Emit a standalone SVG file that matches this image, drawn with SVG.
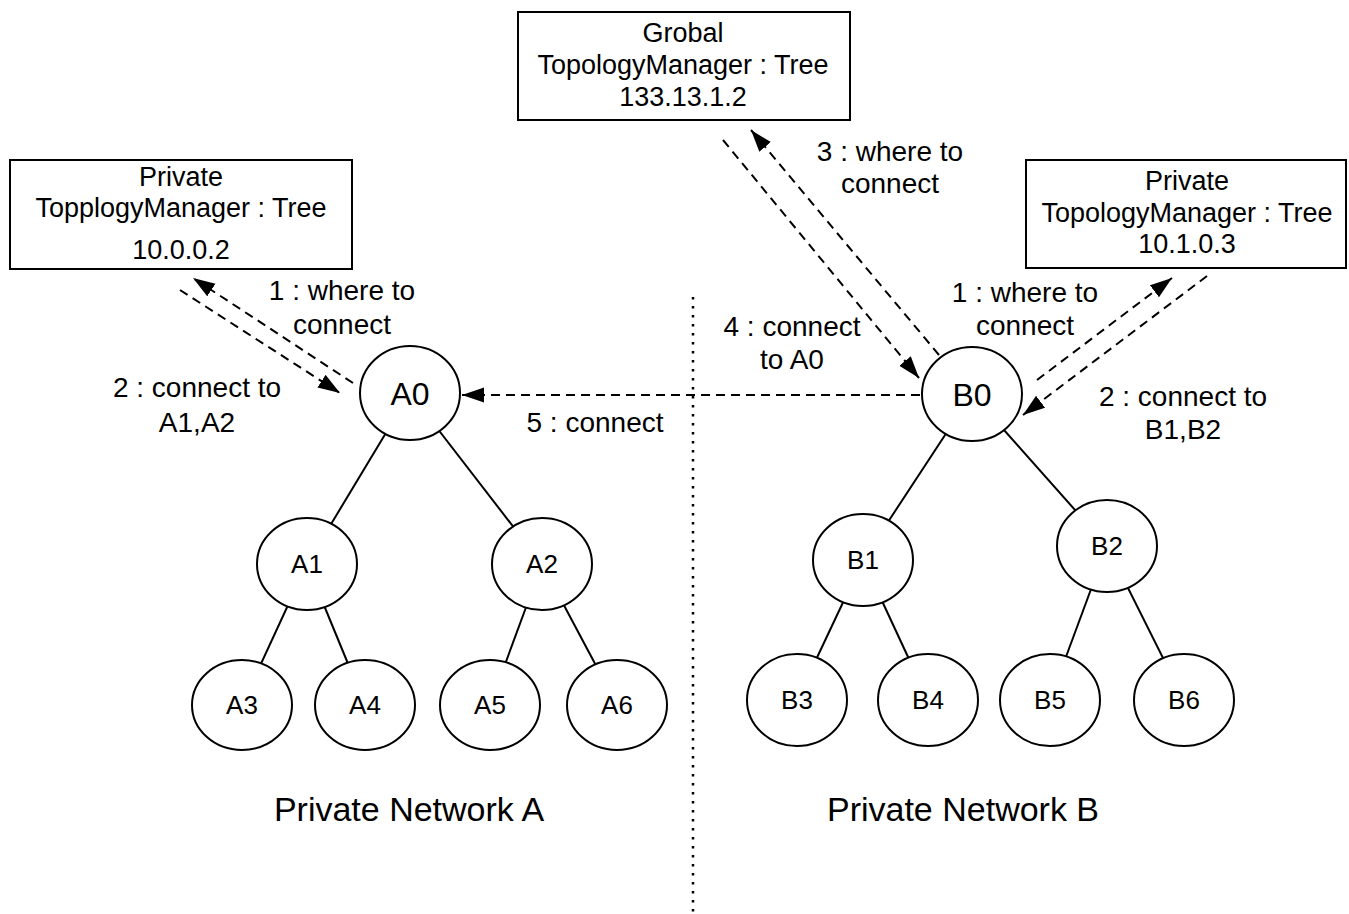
<svg xmlns="http://www.w3.org/2000/svg" width="1349" height="914" viewBox="0 0 1349 914">
<style>
text{font-family:"Liberation Sans",Arial,Helvetica,sans-serif;fill:#000;text-anchor:middle}
.box{fill:#fff;stroke:#000;stroke-width:2}
.node{fill:#fff;stroke:#000;stroke-width:2}
.edge{stroke:#000;stroke-width:2;fill:none}
.msg{stroke:#000;stroke-width:2;fill:none;stroke-dasharray:9 6;marker-end:url(#arr)}
.div{stroke:#000;stroke-width:2.5;fill:none;stroke-dasharray:2.5 6.5}
.bt{font-size:27px}
.lb{font-size:28px}
.n0{font-size:32px}
.n1{font-size:26px}
.title{font-size:34px}
</style>
<defs>
<marker id="arr" markerUnits="userSpaceOnUse" markerWidth="24" markerHeight="16" refX="22" refY="7.5" orient="auto">
<path d="M0,0 L22,7.5 L0,15 Z" fill="#000"/>
</marker>
</defs>
<rect width="1349" height="914" fill="#fff"/>

<g id="connectors">
<line class="div" x1="693" y1="297" x2="693" y2="912" style="marker-end:none"/>
<line class="edge" x1="410" y1="393" x2="307" y2="564"/>
<line class="edge" x1="410" y1="393" x2="542" y2="564"/>
<line class="edge" x1="307" y1="564" x2="242" y2="705"/>
<line class="edge" x1="307" y1="564" x2="365" y2="705"/>
<line class="edge" x1="542" y1="564" x2="490" y2="705"/>
<line class="edge" x1="542" y1="564" x2="617" y2="705"/>
<line class="edge" x1="972" y1="394" x2="863" y2="560"/>
<line class="edge" x1="972" y1="394" x2="1107" y2="546"/>
<line class="edge" x1="863" y1="560" x2="797" y2="700"/>
<line class="edge" x1="863" y1="560" x2="928" y2="700"/>
<line class="edge" x1="1107" y1="546" x2="1050" y2="700"/>
<line class="edge" x1="1107" y1="546" x2="1184" y2="700"/>
<line class="msg" x1="353" y1="383" x2="193" y2="278"/>
<line class="msg" x1="180" y1="290" x2="340" y2="393"/>
<line class="msg" x1="723" y1="140" x2="919" y2="378"/>
<line class="msg" x1="939" y1="355" x2="751" y2="130"/>
<line class="msg" x1="1037" y1="380" x2="1172" y2="278"/>
<line class="msg" x1="1207" y1="276" x2="1023" y2="415"/>
<line class="msg" x1="920" y1="395" x2="462" y2="395"/>
</g>

<g id="labels">
<text class="lb" x="342" y="300">1 : where to</text>
<text class="lb" x="342" y="334">connect</text>
<text class="lb" x="197" y="397">2 : connect to</text>
<text class="lb" x="197" y="432">A1,A2</text>
<text class="lb" x="890" y="161">3 : where to</text>
<text class="lb" x="890" y="193">connect</text>
<text class="lb" x="792" y="336">4 : connect</text>
<text class="lb" x="792" y="369">to A0</text>
<text class="lb" x="595" y="432">5 : connect</text>
<text class="lb" x="1025" y="302">1 : where to</text>
<text class="lb" x="1025" y="335">connect</text>
<text class="lb" x="1183" y="406">2 : connect to</text>
<text class="lb" x="1183" y="439">B1,B2</text>
<text class="title" x="409" y="821">Private Network A</text>
<text class="title" x="963" y="821">Private Network B</text>
</g>

<g id="tmA">
<rect class="box" x="10" y="160" width="342" height="109"/>
<text class="bt" x="181" y="186">Private</text>
<text class="bt" x="181" y="217">TopplogyManager : Tree</text>
<text class="bt" x="181" y="259">10.0.0.2</text>
</g>
<g id="tmG">
<rect class="box" x="518" y="12" width="332" height="108"/>
<text class="bt" x="683" y="42">Grobal</text>
<text class="bt" x="683" y="74">TopologyManager : Tree</text>
<text class="bt" x="683" y="106">133.13.1.2</text>
</g>
<g id="tmB">
<rect class="box" x="1026" y="160" width="320" height="108"/>
<text class="bt" x="1187" y="190">Private</text>
<text class="bt" x="1187" y="222">TopologyManager : Tree</text>
<text class="bt" x="1187" y="253">10.1.0.3</text>
</g>

<g id="A0"><ellipse class="node" cx="410" cy="393" rx="50" ry="47"/><text class="n0" x="410" y="405">A0</text></g>
<g id="A1"><ellipse class="node" cx="307" cy="564" rx="50" ry="46"/><text class="n1" x="307" y="573">A1</text></g>
<g id="A2"><ellipse class="node" cx="542" cy="564" rx="50" ry="46"/><text class="n1" x="542" y="573">A2</text></g>
<g id="A3"><ellipse class="node" cx="242" cy="705" rx="50" ry="45"/><text class="n1" x="242" y="714">A3</text></g>
<g id="A4"><ellipse class="node" cx="365" cy="705" rx="50" ry="45"/><text class="n1" x="365" y="714">A4</text></g>
<g id="A5"><ellipse class="node" cx="490" cy="705" rx="50" ry="45"/><text class="n1" x="490" y="714">A5</text></g>
<g id="A6"><ellipse class="node" cx="617" cy="705" rx="50" ry="45"/><text class="n1" x="617" y="714">A6</text></g>

<g id="B0"><ellipse class="node" cx="972" cy="394" rx="50" ry="47"/><text class="n0" x="972" y="406">B0</text></g>
<g id="B1"><ellipse class="node" cx="863" cy="560" rx="50" ry="46"/><text class="n1" x="863" y="569">B1</text></g>
<g id="B2"><ellipse class="node" cx="1107" cy="546" rx="50" ry="46"/><text class="n1" x="1107" y="555">B2</text></g>
<g id="B3"><ellipse class="node" cx="797" cy="700" rx="50" ry="46"/><text class="n1" x="797" y="709">B3</text></g>
<g id="B4"><ellipse class="node" cx="928" cy="700" rx="50" ry="46"/><text class="n1" x="928" y="709">B4</text></g>
<g id="B5"><ellipse class="node" cx="1050" cy="700" rx="50" ry="46"/><text class="n1" x="1050" y="709">B5</text></g>
<g id="B6"><ellipse class="node" cx="1184" cy="700" rx="50" ry="46"/><text class="n1" x="1184" y="709">B6</text></g>
</svg>
